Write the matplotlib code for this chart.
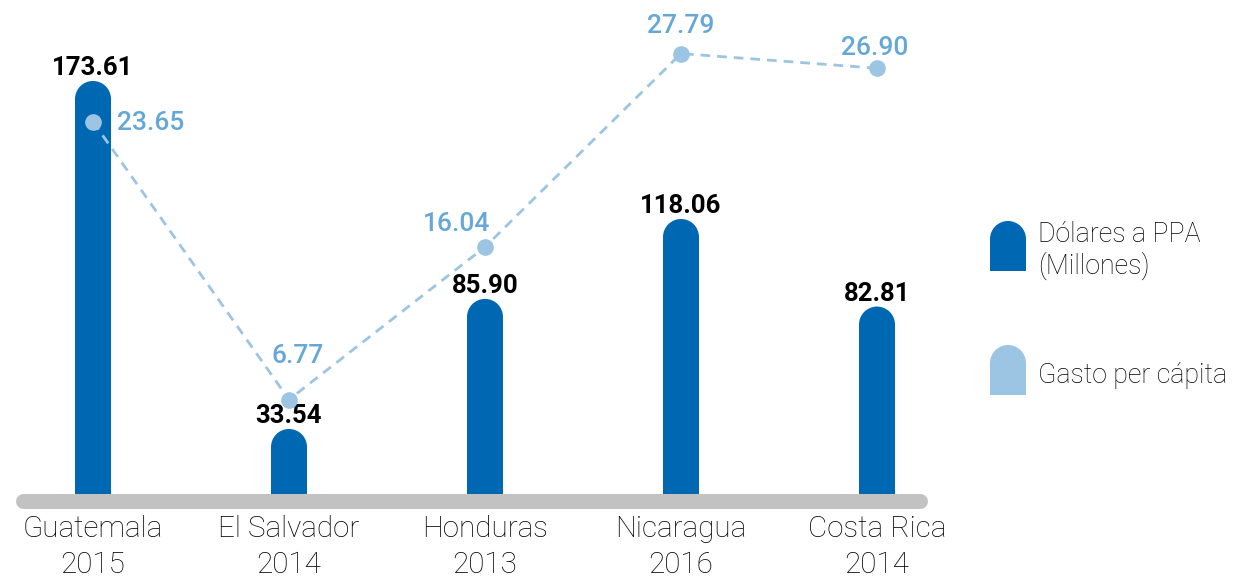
import matplotlib.pyplot as plt
from matplotlib.patches import Rectangle, Ellipse, Wedge

plt.rcParams['font.family'] = ['Roboto', 'DejaVu Sans']

# data
paises = ['Guatemala', 'El Salvador', 'Honduras', 'Nicaragua', 'Costa Rica']
anios = ['2015', '2014', '2013', '2016', '2014']
dolares_ppa = [173.61, 33.54, 85.90, 118.06, 82.81]
gasto_per_capita = [23.65, 6.77, 16.04, 27.79, 26.90]
series = ['Dólares a PPA\n(Millones)', 'Gasto per cápita']

# label offsets (pixels) for the line values
off_linea = [(24, -8, 'left'), (9, 37, 'center'), (-28, 16, 'center'), (0, 21, 'center'), (-2, 13, 'center')]

c_bar = '#0068b3'
c_line = '#9cc5e3'
c_line_txt = '#65a8d8'
c_gris = '#c2c2c2'
c_txt = '#000000'

W, H = 1238, 580
fig = plt.figure(figsize=(W / 100, H / 100), dpi=100)
ax = fig.add_axes([0, 0, 1, 1])
ax.set_xlim(-93 / 196, (W - 93) / 196)
ax.set_ylim(-67.7 / 2.4845, 512.3 / 2.4845)
ax.axis('off')

x = list(range(len(paises)))
ancho = 36 / 196
ry = 18 / 2.4845  # cap radius in data units
base = 4.35

for xi, v in zip(x, dolares_ppa):
    ax.add_patch(Rectangle((xi - ancho / 2, base), ancho, v - ry - base, color=c_bar, lw=0, zorder=2))
    ax.add_patch(Ellipse((xi, v - ry), ancho, 2 * ry, color=c_bar, lw=0, zorder=2))
    ax.annotate(f'{v:.2f}', (xi, v), xytext=(0, 6), textcoords='offset pixels',
                ha='center', va='baseline', fontsize=18.5, fontweight='bold', color='black', zorder=5)

# gray baseline
ax.plot([-0.355, 4.217], [base, base], color=c_gris, lw=15 * 0.72, solid_capstyle='round', zorder=3)

for xi, p, a in zip(x, paises, anios):
    ax.text(xi, (H - 537) / H, p, transform=ax.get_xaxis_transform(), ha='center', va='baseline',
            fontsize=21.3, fontweight='light', color=c_txt)
    ax.text(xi, (H - 573) / H, a, transform=ax.get_xaxis_transform(), ha='center', va='baseline',
            fontsize=21.3, fontweight='light', color=c_txt)

ax2 = ax.twinx()
ax2.set_position([0, 0, 1, 1])
ax2.set_ylim(-69 / 16.46, 511 / 16.46)
ax2.axis('off')
ax2.plot(x, gasto_per_capita, color=c_line, lw=2, ls=(0, (3.5, 2.5)), marker='o', ms=12,
         markerfacecolor=c_line, markeredgewidth=0, zorder=4)
for xi, v, (dx, dy, ha) in zip(x, gasto_per_capita, off_linea):
    ax2.annotate(f'{v:.2f}', (xi, v), xytext=(dx, dy), textcoords='offset pixels',
                 ha=ha, va='baseline', fontsize=19, fontweight='medium', color=c_line_txt)

# legend in pixel coordinates
lax = fig.add_axes([0, 0, 1, 1], zorder=6)
lax.set_xlim(0, W)
lax.set_ylim(H, 0)
lax.axis('off')
for nombre, col, ytop, ybase in [(series[0], c_bar, 221, 242), (series[1], c_line, 345, 383)]:
    lax.add_patch(Rectangle((990, ytop + 18), 36, 32, color=col, lw=0))
    lax.add_patch(Wedge((1008, ytop + 18), 18, 180, 360, color=col, lw=0))
    for i, linea in enumerate(nombre.split('\n')):
        lax.text(1038, ybase + i * 32, linea, ha='left', va='baseline', fontsize=19.3,
                 fontweight='light', color=c_txt)

fig.savefig('out.png', dpi=100)
